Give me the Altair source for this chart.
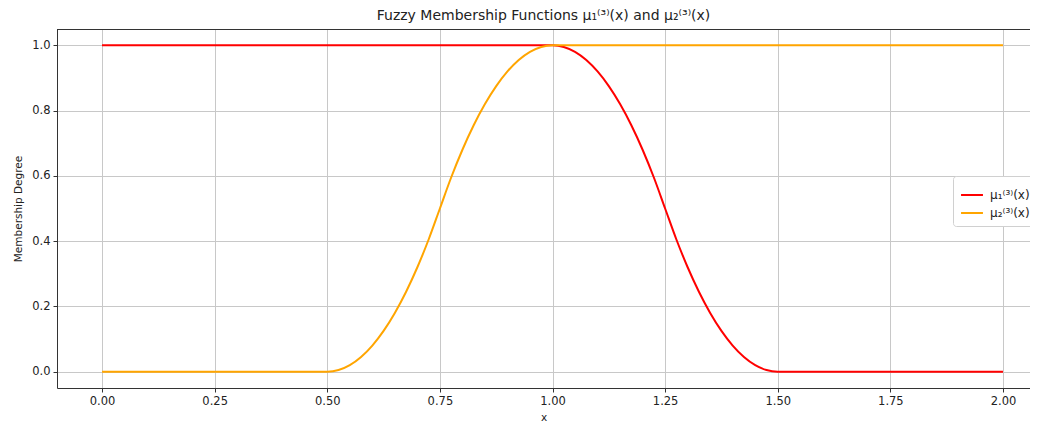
import altair as alt
import pandas as pd

# Series 1: mu_1^(3)(x)
x_mu1 = [0.0, 1.0, 1.025, 1.05, 1.075, 1.1, 1.125, 1.15, 1.175, 1.2, 1.225, 1.25,
         1.275, 1.3, 1.325, 1.35, 1.375, 1.4, 1.425, 1.45, 1.475, 1.5, 2.0]
y_mu1 = [1.0, 1.0, 0.995, 0.98, 0.955, 0.92, 0.875, 0.82, 0.755, 0.68, 0.595, 0.5,
         0.405, 0.32, 0.245, 0.18, 0.125, 0.08, 0.045, 0.02, 0.005, 0.0, 0.0]

# Series 2: mu_2^(3)(x)
x_mu2 = [0.0, 0.5, 0.525, 0.55, 0.575, 0.6, 0.625, 0.65, 0.675, 0.7, 0.725, 0.75,
         0.775, 0.8, 0.825, 0.85, 0.875, 0.9, 0.925, 0.95, 0.975, 1.0, 2.0]
y_mu2 = [0.0, 0.0, 0.005, 0.02, 0.045, 0.08, 0.125, 0.18, 0.245, 0.32, 0.405, 0.5,
         0.595, 0.68, 0.755, 0.82, 0.875, 0.92, 0.955, 0.98, 0.995, 1.0, 1.0]

series_names = ["μ₁⁽³⁾(x)", "μ₂⁽³⁾(x)"]
series_colors = ["#ff0000", "#ffa500"]
x_ticks = [0.0, 0.25, 0.5, 0.75, 1.0, 1.25, 1.5, 1.75, 2.0]
y_ticks = [0.0, 0.2, 0.4, 0.6, 0.8, 1.0]

rows = []
for xv, yv in zip(x_mu1, y_mu1):
    rows.append({"x": xv, "y": yv, "series": series_names[0]})
for xv, yv in zip(x_mu2, y_mu2):
    rows.append({"x": xv, "y": yv, "series": series_names[1]})
df = pd.DataFrame(rows)

W, H = 973, 359
FONT = "DejaVu Sans"

lines = alt.Chart(df).mark_line(strokeWidth=2, interpolate="monotone").encode(
    x=alt.X("x:Q", scale=alt.Scale(domain=[-0.1, 2.06], nice=False, zero=False),
            axis=alt.Axis(values=x_ticks, format=".2f", title="x")),
    y=alt.Y("y:Q", scale=alt.Scale(domain=[-0.05, 1.05], nice=False, zero=False),
            axis=alt.Axis(values=y_ticks, format=".1f", title="Membership Degree")),
    color=alt.Color("series:N",
                    scale=alt.Scale(domain=series_names, range=series_colors),
                    legend=alt.Legend(title=None, orient="none", legendX=896, legendY=147,
                                      symbolType="stroke", symbolSize=480,
                                      symbolStrokeWidth=2, rowPadding=-5,
                                      labelFont=FONT, labelFontSize=12, labelColor="#222",
                                      labelOffset=6, padding=7,
                                      fillColor="white", strokeColor="#d0d0d0",
                                      cornerRadius=3)),
    detail="series:N",
    order="x:Q",
)

top_border = alt.Chart(df).mark_rule(color="#333", strokeWidth=1).encode(
    x=alt.value(0), x2=alt.value(W), y=alt.value(0.5)
)

chart = alt.layer(lines, top_border).properties(
    width=W, height=H,
    title=alt.TitleParams("Fuzzy Membership Functions μ₁⁽³⁾(x) and μ₂⁽³⁾(x)",
                          font=FONT, fontSize=14, fontWeight="normal",
                          color="#222", offset=6, anchor="middle"),
    autosize=alt.AutoSizeParams(type="none"),
    padding={"left": 49, "top": 21, "right": 0, "bottom": 34},
).configure_view(stroke=None).configure_axis(
    labelFont=FONT, labelFontSize=11.5, labelColor="#222",
    titleFont=FONT, titleFontSize=10.5, titleFontWeight="normal", titleColor="#222",
    domainColor="#333", domainWidth=1, tickColor="#333", tickSize=4, tickWidth=1,
    gridColor="#c8c8c8", gridWidth=1, labelPadding=3,
).configure_axisX(titlePadding=6).configure_axisY(titlePadding=8)

chart.save("out.html", embed_options={"renderer": "svg", "actions": False})
